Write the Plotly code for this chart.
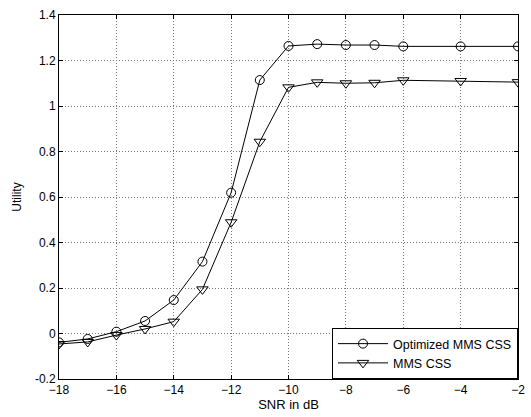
import plotly.graph_objects as go

snr = [-18, -17, -16, -15, -14, -13, -12, -11, -10, -9, -8, -7, -6, -4, -2]
optimized = [-0.039, -0.024, 0.008, 0.055, 0.147, 0.316, 0.619, 1.114, 1.264, 1.272, 1.268, 1.268, 1.262, 1.262, 1.262]
mms = [-0.046, -0.037, -0.007, 0.02, 0.052, 0.194, 0.489, 0.843, 1.082, 1.104, 1.100, 1.102, 1.113, 1.110, 1.105]

x_ticks = [-18, -16, -14, -12, -10, -8, -6, -4, -2]
y_ticks = [-0.2, 0, 0.2, 0.4, 0.6, 0.8, 1, 1.2, 1.4]
y_labels = ["-0.2", "0", "0.2", "0.4", "0.6", "0.8", "1", "1.2", "1.4"]

FONT = "Liberation Sans, Arial"

fig = go.Figure()
fig.add_trace(go.Scatter(
    x=snr, y=optimized, mode="lines+markers", name="Optimized MMS CSS",
    line=dict(color="black", width=1),
    marker=dict(symbol="circle-open", size=9, color="black", line=dict(width=1)),
))
fig.add_trace(go.Scatter(
    x=snr, y=mms, mode="lines+markers", name="MMS CSS",
    line=dict(color="black", width=1),
    marker=dict(symbol="triangle-down-open", size=10, color="black", line=dict(width=1)),
))

axis_common = dict(
    showline=True, linecolor="black", linewidth=1, mirror="ticks",
    ticks="inside", ticklen=4, tickcolor="black",
    showgrid=True, gridcolor="#7a7a7a", griddash="1px,2px", gridwidth=1,
    zeroline=False, tickfont=dict(family=FONT, size=12, color="black"),
    ticklabeloverflow="allow",
)

fig.update_xaxes(range=[-18, -2], tickvals=x_ticks,
                 title=dict(text="SNR in dB", standoff=1,
                            font=dict(family=FONT, size=13, color="black")),
                 **axis_common)
fig.update_yaxes(range=[-0.2, 1.4], tickvals=y_ticks, ticktext=y_labels,
                 title=dict(text="Utility", standoff=10,
                            font=dict(family=FONT, size=12, color="black")),
                 **axis_common)

fig.update_layout(
    width=531, height=417,
    margin=dict(l=59, r=6, t=15, b=38),
    plot_bgcolor="white", paper_bgcolor="white",
    font=dict(family=FONT, size=12, color="black"),
    legend=dict(x=1, y=0, xanchor="right", yanchor="bottom",
                bordercolor="black", borderwidth=1, bgcolor="white",
                itemwidth=50, tracegroupgap=0,
                font=dict(family=FONT, size=12.5, color="black")),
    showlegend=True,
)

fig.write_html("out.html", config={"displayModeBar": False},
               post_script="document.body.style.margin='0';document.body.style.overflow='hidden';")
